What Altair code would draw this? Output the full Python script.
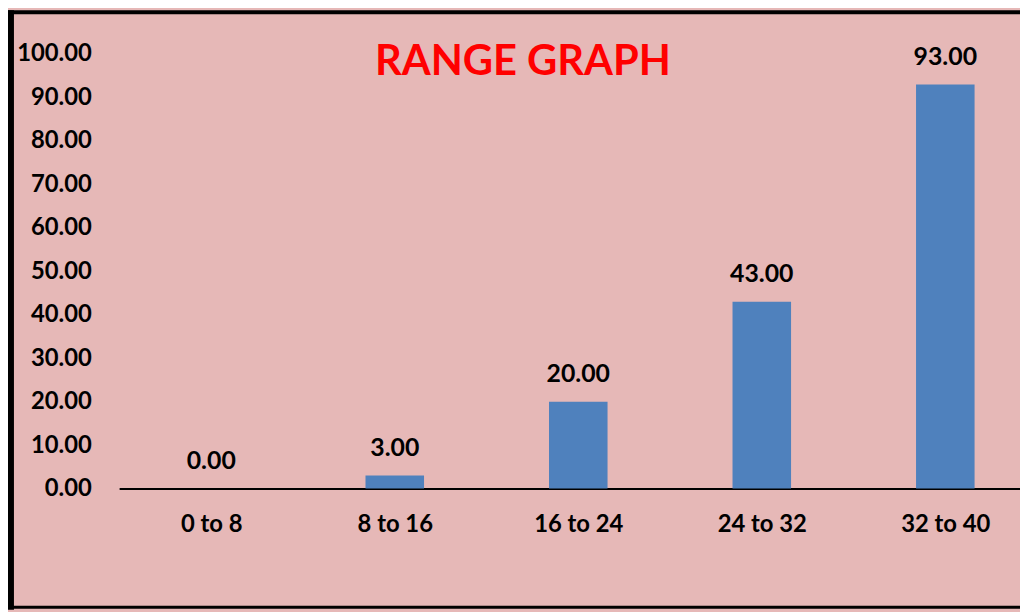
import altair as alt
import pandas as pd

categories = ["0 to 8", "8 to 16", "16 to 24", "24 to 32", "32 to 40"]
values = [0.0, 3.0, 20.0, 43.0, 93.0]
y_ticks = [0, 10, 20, 30, 40, 50, 60, 70, 80, 90, 100]
title_text = "RANGE GRAPH"

df = pd.DataFrame({"range": categories, "value": values, "idx": list(range(len(categories)))})

FONT = "Lato"
PLOT_W, PLOT_H = 908, 438
PAD_L, PAD_T = 112, 44
CANVAS_H = 604

label_expr = "[" + ",".join("'" + c + "'" for c in categories) + "][datum.value]"

base = alt.Chart(df)

x_scale = alt.Scale(domain=[-0.475, 4.38], nice=False, zero=False)
x_enc = alt.X(
    "idx:Q",
    scale=x_scale,
    axis=alt.Axis(
        title=None, values=list(range(len(categories))), labelExpr=label_expr,
        labelAngle=0, ticks=False, domain=True, domainColor="black", labelFlush=False,
        domainWidth=2, labelPadding=24, labelFontSize=24, labelFont=FONT,
        labelFontWeight="bold", labelColor="black", grid=False,
    ),
)
y_scale = alt.Scale(domain=[0, 100], nice=False)
y_enc = alt.Y(
    "value:Q",
    scale=y_scale,
    axis=alt.Axis(
        title=None, values=y_ticks, format=".2f", ticks=False, domain=False,
        grid=False, labelPadding=28, labelFontSize=24, labelFont=FONT,
        labelFontWeight="bold", labelColor="black",
    ),
)

bars = base.mark_bar(color="#4F81BD", size=59).encode(x=x_enc, y=y_enc, tooltip=["range:N", "value:Q"])
labels = base.mark_text(
    font=FONT, fontSize=25, fontWeight="bold", color="black",
    baseline="alphabetic", dy=-20,
).encode(
    x=alt.X("idx:Q", scale=x_scale),
    y=alt.Y("value:Q", scale=y_scale),
    text=alt.Text("value:Q", format=".2f"),
)

title = alt.Chart(pd.DataFrame({"t": [title_text]})).mark_text(
    font=FONT, fontSize=42, fontWeight="bold", color="#FF0000", baseline="middle", align="center"
).encode(text="t:N", x=alt.value(407), y=alt.value(8))

frame_df = pd.DataFrame({"k": [0]})
left_border = alt.Chart(frame_df).mark_rule(color="black", strokeWidth=6).encode(
    x=alt.value(-PAD_L + 3), y=alt.value(-PAD_T), y2=alt.value(CANVAS_H - PAD_T)
)
top_border = alt.Chart(frame_df).mark_rule(color="black", strokeWidth=4).encode(
    y=alt.value(-PAD_T + 2), x=alt.value(-PAD_L), x2=alt.value(PLOT_W + 20)
)
bottom_border = alt.Chart(frame_df).mark_rule(color="black", strokeWidth=3).encode(
    y=alt.value(CANVAS_H - PAD_T - 2.5), x=alt.value(-PAD_L), x2=alt.value(PLOT_W + 20)
)

chart = alt.layer(bars, labels, title, left_border, top_border, bottom_border).properties(
    width=PLOT_W, height=PLOT_H,
    autosize=alt.AutoSizeParams(type="none"),
    padding={"left": PAD_L, "top": PAD_T, "right": 0, "bottom": CANVAS_H - PAD_T - PLOT_H},
).configure(background="#E6B8B7").configure_view(stroke=None)

chart.save("out.html", embed_options={"renderer": "svg", "actions": False})
